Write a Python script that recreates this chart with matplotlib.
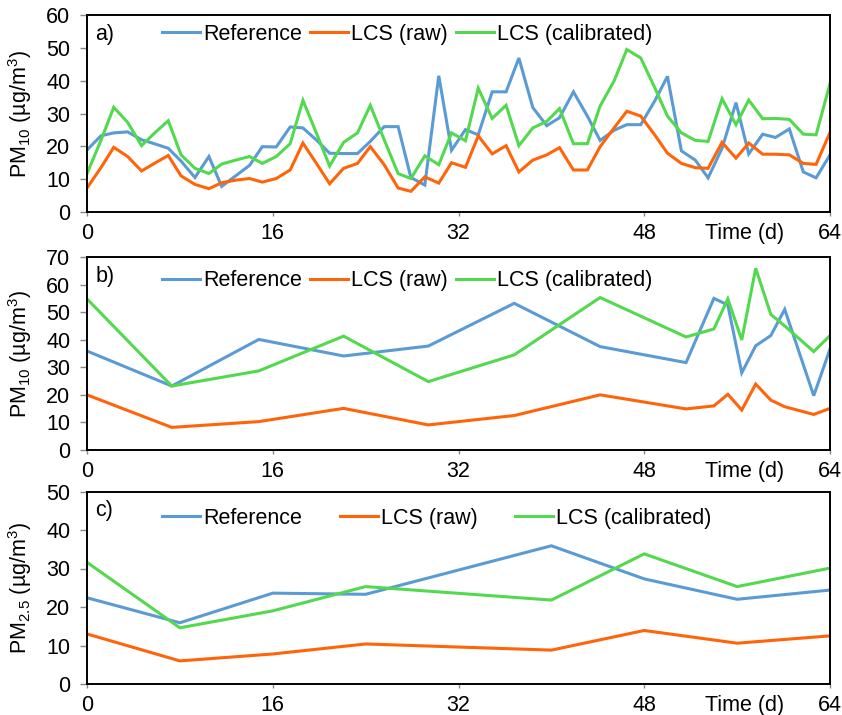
import matplotlib
matplotlib.use("Agg")
import matplotlib.pyplot as plt

plt.rcParams['font.family'] = ['Liberation Sans', 'DejaVu Sans']
plt.rcParams['mathtext.default'] = 'regular'

# ---------------- data ----------------
# Panel a: PM10, daily-ish samples
days_a = [0.0, 1.2, 2.3, 3.5, 4.7, 5.8, 7.0, 8.1, 9.3, 10.5, 11.6, 12.8, 14.0, 15.1,
          16.3, 17.5, 18.6, 19.8, 20.9, 22.1, 23.3, 24.4, 25.6, 26.8, 27.9, 29.1, 30.3,
          31.4, 32.6, 33.7, 34.9, 36.1, 37.2, 38.4, 39.6, 40.7, 41.9, 43.1, 44.2, 45.4,
          46.5, 47.7, 48.9, 50.0, 51.2, 52.4, 53.5, 54.7, 55.9, 57.0, 58.2, 59.3, 60.5,
          61.7, 62.8, 64.0]
ref_a = [18.9, 23.2, 24.1, 24.4, 22.0, 20.8, 19.4, 15.5, 10.5, 16.9, 7.8, 11.0, 14.2, 19.9,
         19.8, 25.9, 25.6, 21.8, 17.9, 17.8, 17.8, 21.5, 26.0, 26.0, 10.5, 8.2, 41.5,
         18.8, 25.1, 23.5, 36.6, 36.6, 46.9, 31.8, 26.3, 28.7, 36.6, 29.2, 21.8, 24.9,
         26.6, 26.6, 33.8, 41.3, 18.6, 15.8, 10.4, 19.4, 33.3, 17.7, 23.7, 22.7, 25.3,
         12.2, 10.4, 17.4]
raw_a = [7.3, 13.5, 19.7, 16.9, 12.5, 14.8, 17.2, 11.0, 8.4, 7.1, 8.9, 9.7, 10.2, 9.1,
         10.2, 12.8, 21.0, 14.6, 8.6, 13.3, 14.8, 19.9, 14.4, 7.3, 6.3, 10.7, 8.8,
         15.0, 13.6, 23.2, 17.7, 20.2, 12.2, 15.8, 17.4, 19.6, 12.8, 12.8, 19.9, 25.6,
         30.7, 29.2, 23.5, 17.9, 14.8, 13.5, 13.3, 21.2, 16.4, 21.0, 17.6, 17.6, 17.4,
         14.8, 14.5, 24.2]
cal_a = [11.7, 21.8, 31.9, 27.3, 20.2, 24.0, 27.8, 17.4, 13.3, 11.7, 14.6, 15.8, 16.9, 14.8,
         16.9, 20.8, 34.0, 23.7, 14.0, 21.2, 24.1, 32.5, 22.0, 11.7, 10.2, 17.1, 14.4,
         24.1, 21.7, 37.7, 28.5, 32.5, 20.2, 25.6, 27.6, 31.5, 20.8, 20.8, 32.3, 39.9,
         49.5, 46.9, 37.9, 29.2, 24.1, 21.8, 21.5, 34.5, 26.6, 34.1, 28.4, 28.5, 28.2,
         23.7, 23.5, 39.1]

# Panel b: PM10
days_b = [0.0, 7.3, 14.8, 22.1, 29.4, 36.8, 44.2, 51.6, 54.0, 55.2, 56.4, 57.6, 58.9,
          60.1, 62.6, 64.0]
ref_b = [35.9, 23.2, 40.1, 34.1, 37.7, 53.2, 37.5, 31.7, 55.0, 52.6, 28.0, 37.8, 41.5,
         51.0, 19.7, 36.6]
raw_b = [20.0, 8.2, 10.3, 15.1, 9.1, 12.5, 20.0, 14.9, 16.0, 20.2, 14.5, 23.9, 18.1,
         15.7, 12.9, 15.1]
cal_b = [54.8, 23.2, 28.7, 41.3, 24.8, 34.5, 55.3, 41.0, 43.9, 54.8, 39.9, 65.9, 49.2,
         45.0, 35.7, 41.5]

# Panel c: PM2.5
days_c = [0, 8, 16, 24, 40, 48, 56, 64]
ref_c = [22.4, 15.9, 23.6, 23.3, 35.9, 27.3, 22.0, 24.4]
raw_c = [13.0, 6.0, 7.8, 10.4, 8.8, 13.9, 10.6, 12.5]
cal_c = [31.6, 14.6, 19.0, 25.3, 21.8, 33.8, 25.3, 30.1]

series_names = ["Reference", "LCS (raw)", "LCS (calibrated)"]
xticks = [0, 16, 32, 48, 64]
colors = ["#5B9BD5", "#FF640A", "#52D94E"]

panels = [
    dict(tag="a)", days=days_a, ys=[ref_a, raw_a, cal_a], ymax=60,
         ylabel="PM$_{10}$ (µg/m$^3$)", colsp=0.38, leg_y=1.0),
    dict(tag="b)", days=days_b, ys=[ref_b, raw_b, cal_b], ymax=70,
         ylabel="PM$_{10}$ (µg/m$^3$)", colsp=0.38, leg_y=0.975),
    dict(tag="c)", days=days_c, ys=[ref_c, raw_c, cal_c], ymax=50,
         ylabel="PM$_{2.5}$ (µg/m$^3$)", colsp=1.75, leg_y=0.96),
]

fig = plt.figure(figsize=(8.42, 7.15), dpi=100)
W, H = 842.0, 715.0
boxes = [(15, 212), (257, 450), (491.5, 684)]
left, right = 87, 830

FS = 15.5
for p, (top, bot) in zip(panels, boxes):
    ax = fig.add_axes([left / W, 1 - bot / H, (right - left) / W, (bot - top) / H])
    for y, c, n in zip(p["ys"], colors, series_names):
        ax.plot(p["days"], y, color=c, lw=2.2, label=n, solid_joinstyle='miter')
    ax.set_xlim(0, 64)
    ax.set_ylim(0, p["ymax"])
    ax.set_xticks(xticks)
    ax.set_yticks(range(0, p["ymax"] + 1, 10))
    ax.tick_params(axis='y', labelsize=FS, color='#888888', length=5, width=1,
                   direction='out', pad=7)
    ax.tick_params(axis='x', labelsize=FS, color='#888888', length=3, width=1,
                   direction='out', pad=5)
    for s in ax.spines.values():
        s.set_linewidth(1.4)
        s.set_color('black')
    ax.set_ylabel(p["ylabel"], fontsize=FS)
    ax.yaxis.set_label_coords(-0.072, 0.5)
    ax.text(0.011, 0.9, p["tag"], transform=ax.transAxes, fontsize=FS,
            va='center', ha='left')
    ax.annotate("Time (d)", xy=(56.6, 0), xycoords=('data', 'axes fraction'),
                xytext=(0, -8), textcoords='offset points',
                fontsize=FS, ha='center', va='top')
    ax.legend(loc='upper left', bbox_to_anchor=(0.09, p["leg_y"]), ncol=3, frameon=False,
              fontsize=FS, handlelength=1.75, handletextpad=0.15,
              columnspacing=p["colsp"], borderaxespad=0.0)

fig.savefig("out.png", dpi=100)
